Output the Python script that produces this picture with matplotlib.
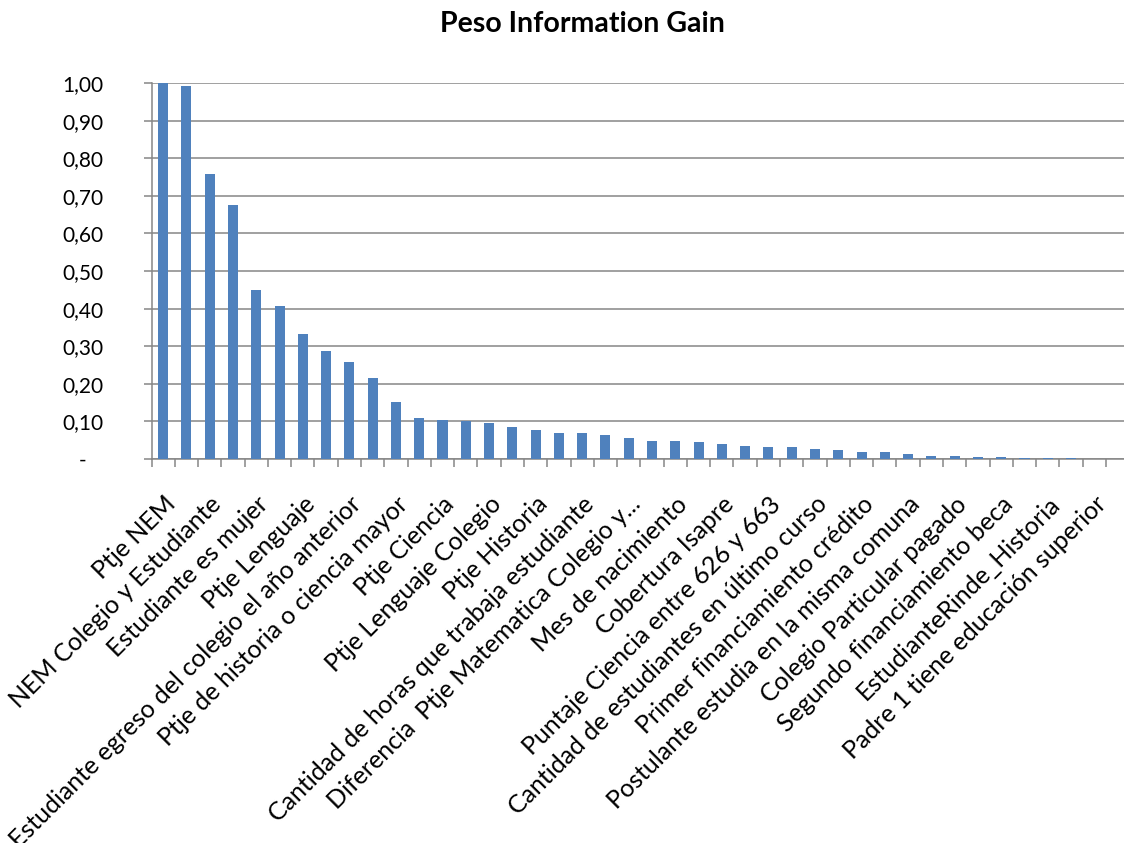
import matplotlib
matplotlib.use("Agg")
import matplotlib.pyplot as plt
from matplotlib.ticker import FuncFormatter, FixedLocator
import numpy as np

title = "Peso Information Gain"

categories = [
    "Ptje NEM", "",
    "NEM Colegio y Estudiante", "",
    "Estudiante es mujer", "",
    "Ptje Lenguaje", "",
    "Estudiante egreso del colegio el año anterior", "",
    "Ptje de historia o ciencia mayor", "",
    "Ptje Ciencia", "",
    "Ptje Lenguaje Colegio", "",
    "Ptje Historia", "",
    "Cantidad de horas que trabaja estudiante", "",
    "Diferencia  Ptje Matematica Colegio y...", "",
    "Mes de nacimiento", "",
    "Cobertura Isapre", "",
    "Puntaje Ciencia entre 626 y 663", "",
    "Cantidad de estudiantes en último curso", "",
    "Primer financiamiento crédito", "",
    "Postulante estudia en la misma comuna", "",
    "Colegio Particular pagado", "",
    "Segundo financiamiento beca", "",
    "EstudianteRinde_Historia", "",
    "Padre 1 tiene educación superior", "",
]

values = [1.00, 0.993, 0.758, 0.676, 0.449, 0.407, 0.332, 0.287, 0.258, 0.215,
          0.151, 0.108, 0.103, 0.100, 0.095, 0.084, 0.076, 0.070, 0.068, 0.065,
          0.057, 0.047, 0.047, 0.044, 0.039, 0.034, 0.031, 0.031, 0.026, 0.024,
          0.018, 0.018, 0.013, 0.008, 0.008, 0.005, 0.005, 0.003, 0.002, 0.002,
          0.0, 0.0]

y_ticks = [0.0, 0.1, 0.2, 0.3, 0.4, 0.5, 0.6, 0.7, 0.8, 0.9, 1.0]

plt.rcParams["font.family"] = ["Lato", "DejaVu Sans"]

W, H = 1124, 843
fig = plt.figure(figsize=(W / 100, H / 100), dpi=100)
n = len(categories)
cat_w = 23.28
ax = fig.add_axes([151.5 / W, (H - 459) / H, n * cat_w / W, 376 / H])

x = np.arange(n)
ax.bar(x, values, width=0.43, color="#4F81BD", zorder=3)

grid_c = "#868686"
ax.set_xlim(-0.5, n - 0.5)
ax.set_ylim(0, 1.0)
ax.set_yticks(y_ticks)
ax.yaxis.set_major_formatter(FuncFormatter(
    lambda v, p: "-   " if abs(v) < 1e-9 else f"{v:.2f}".replace(".", ",")))
ax.grid(axis="y", color=grid_c, linewidth=1.1, zorder=0)
ax.set_axisbelow(True)

for s in ["top", "right"]:
    ax.spines[s].set_visible(False)
for s in ["left", "bottom"]:
    ax.spines[s].set_color(grid_c)
    ax.spines[s].set_linewidth(1.1)

ax.tick_params(axis="y", length=5.8, width=1.1, color=grid_c, pad=29, labelsize=15)

label_pos = [i for i, c in enumerate(categories) if c]
ax.xaxis.set_major_locator(FixedLocator(label_pos))
ax.set_xticklabels([categories[i] for i in label_pos], rotation=45,
                   ha="right", va="top", rotation_mode="anchor", fontsize=18)
ax.xaxis.set_minor_locator(FixedLocator(np.arange(-0.5, n, 1.0)))
ax.tick_params(axis="x", which="major", length=0, pad=24)
ax.tick_params(axis="x", which="minor", length=5.8, width=1.1, color=grid_c)

fig.text(582.5 / W, 1 - 32 / H, title, ha="center", va="baseline",
         fontsize=20.5, fontweight="bold")

fig.savefig("out.png", dpi=100)
